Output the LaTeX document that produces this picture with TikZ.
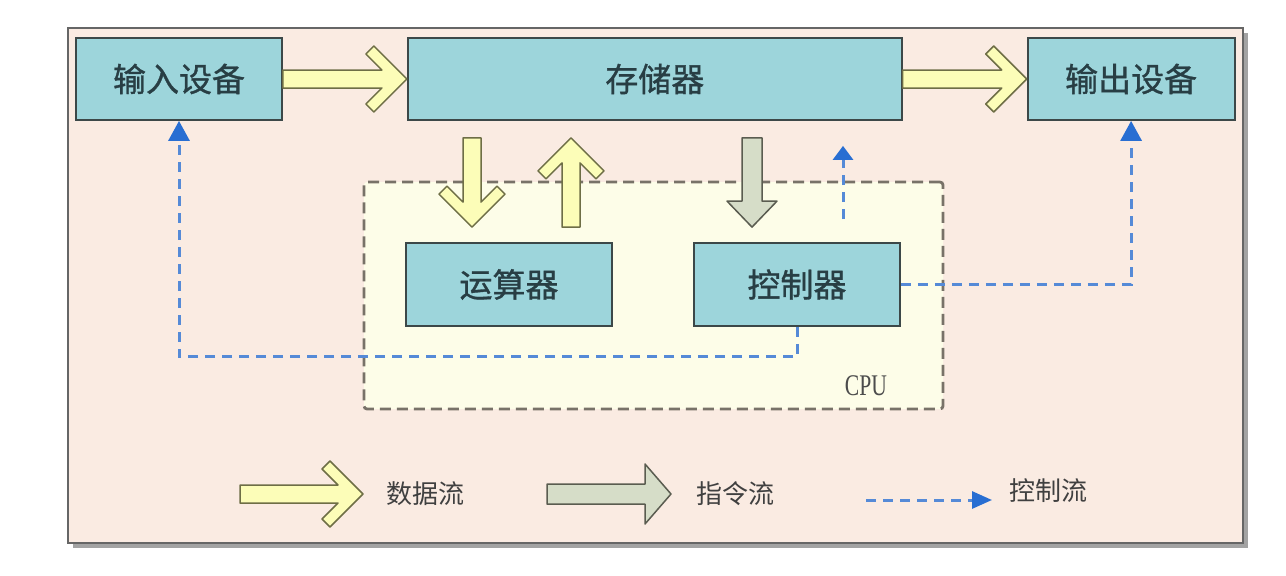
\documentclass[tikz,border=0pt]{standalone}
\usepackage{fontspec}
\newfontfamily\cjk{Noto Sans CJK SC}
\newfontfamily\cjkbox{Noto Sans CJK SC}[FakeBold=1]
\newfontfamily\cpufont{Liberation Serif}
\usetikzlibrary{calc,positioning,arrows.meta,shadows}
\definecolor{panelbg}{RGB}{250,235,226}
\definecolor{boxfill}{RGB}{157,213,219}
\definecolor{boxline}{RGB}{60,72,72}
\definecolor{boxtext}{RGB}{40,62,68}
\definecolor{cpufill}{RGB}{253,253,232}
\definecolor{cpuline}{RGB}{120,114,104}
\definecolor{datafill}{RGB}{252,253,184}
\definecolor{dataline}{RGB}{110,110,70}
\definecolor{instfill}{RGB}{214,221,200}
\definecolor{instline}{RGB}{90,92,80}
\definecolor{ctrlblue}{RGB}{85,138,215}
\definecolor{tipblue}{RGB}{40,110,210}
\tikzset{
    unitbox/.style={
        draw=boxline, line width=1.8pt, fill=boxfill,
        minimum width=206pt, minimum height=82pt, inner sep=0pt,
        font=\cjkbox\fontsize{33}{38}\selectfont, text=boxtext
    },
    % 数据流 / 指令流 的粗箭头
    dataarrow/.style={draw=dataline, line width=1.5pt, fill=datafill, line join=round},
    instarrow/.style={draw=instline, line width=1.5pt, fill=instfill, line join=round},
    % 控制流
    ctrlline/.style={ctrlblue, line width=3pt, dash pattern=on 10pt off 7pt},
    ctrlarrow/.style={ctrlline, -{Triangle[length=20pt,width=21pt,color=tipblue]}},
    legendtext/.style={font=\cjk\fontsize{26}{30}\selectfont, text=black!75, inner sep=0pt}
}
% chevron arrow from #1 to #2
\newcommand{\dataflow}[2]{%
    \draw[dataarrow] let \p1=(#1), \p2=(#2),
        \n1={atan2(\y2-\y1,\x2-\x1)}, \n2={veclen(\x2-\x1,\y2-\y1)} in
        [shift={(\p1)}, rotate=\n1]
        (0,-9) -- ({\n2-25pt},-9) -- ({\n2-41pt},-25) -- ({\n2-33pt},-33) -- (\n2,0)
        -- ({\n2-33pt},33) -- ({\n2-41pt},25) -- ({\n2-25pt},9) -- (0,9) -- cycle;}
% block arrow from #2 to #3, head half width #1
\newcommand{\instflow}[3][25]{%
    \draw[instarrow] let \p1=(#2), \p2=(#3),
        \n1={atan2(\y2-\y1,\x2-\x1)}, \n2={veclen(\x2-\x1,\y2-\y1)} in
        [shift={(\p1)}, rotate=\n1]
        (0,-10) -- ({\n2-26pt},-10) -- ({\n2-26pt},-#1) -- (\n2,0)
        -- ({\n2-26pt},#1) -- ({\n2-26pt},10) -- (0,10) -- cycle;}

\begin{document}
\begin{tikzpicture}[x=1pt,y=-1pt]
    \useasboundingbox[fill=white] (0,0) rectangle (1286,576);
    \path[draw=black!60, line width=2.5pt, fill=panelbg,
        drop shadow={shadow xshift=5pt, shadow yshift=-5pt, opacity=0.45, fill=black!80}]
        (68,28) rectangle (1243,543);

    % CPU
    \node (cpu) [draw=cpuline, fill=cpufill, line width=2.8pt, dash pattern=on 11pt off 6pt,
        rounded corners=3pt, minimum width=579pt, minimum height=227pt] at (653.5,295.5) {};
    \node (cpulabel) [text=black!70, font=\cpufont\fontsize{30}{34}\selectfont, inner sep=0pt]
        at (866,386) {\scalebox{0.72}[1]{CPU}};

    \node (in) [unitbox] at (179,79) {输入设备};
    \node (mem) [unitbox, minimum width=494pt, right=124pt of in] {存储器};
    \node (out) [unitbox, minimum width=207pt, right=124pt of mem] {输出设备};
    \node (alu) [unitbox, minimum height=83pt] at (509,284.5) {运算器};
    \node (ctl) [unitbox, minimum height=83pt] at (797,284.5) {控制器};

    \coordinate (d1a) at ($(alu.north |- mem.south)+(-37,17)$);
    \coordinate (d1b) at ($(alu.north)+(-37,-15)$);
    \coordinate (u1a) at ($(alu.north)+(62,-15)$);
    \coordinate (u1b) at ($(alu.north |- mem.south)+(62,17)$);
    \coordinate (i1a) at ($(ctl.north |- mem.south)+(-45,17)$);
    \coordinate (i1b) at ($(ctl.north)+(-45,-15)$);
    \coordinate (c1a) at ($(ctl.north)+(46,-23)$);
    \coordinate (c1b) at ($(ctl.north |- mem.south)+(46,25)$);

    \dataflow{in.east}{mem.west}
    \dataflow{mem.east}{out.west}
    \dataflow{d1a}{d1b}
    \dataflow{u1a}{u1b}
    \instflow{i1a}{i1b}

    \draw[ctrlline, -{Triangle[length=14pt,width=20pt,color=tipblue]}] (c1a) -- (c1b);
    \draw[ctrlarrow] (ctl.east) -| (out.south);
    \draw[ctrlarrow] (ctl.south) -- ++(0,30) -| (in.south);

    % legend
    \coordinate (lg1a) at (240,494);
    \coordinate (lg1b) at (363,494);
    \coordinate (lg2a) at (547,494);
    \coordinate (lg2b) at (671,494);
    \coordinate (lg3a) at (866,500);
    \coordinate (lg3b) at (992,500);
    \dataflow{lg1a}{lg1b}
    \instflow[30]{lg2a}{lg2b}
    \draw[ctrlline, -{Triangle[length=20pt,width=17pt,color=tipblue]}] (lg3a) -- (lg3b);
    \node (lt1) [legendtext, right=23pt of lg1b] {数据流};
    \node (lt2) [legendtext, right=25pt of lg2b] {指令流};
    \node (lt3) [legendtext, right=17pt of lg3b, yshift=9pt] {控制流};
\end{tikzpicture}
\end{document}
